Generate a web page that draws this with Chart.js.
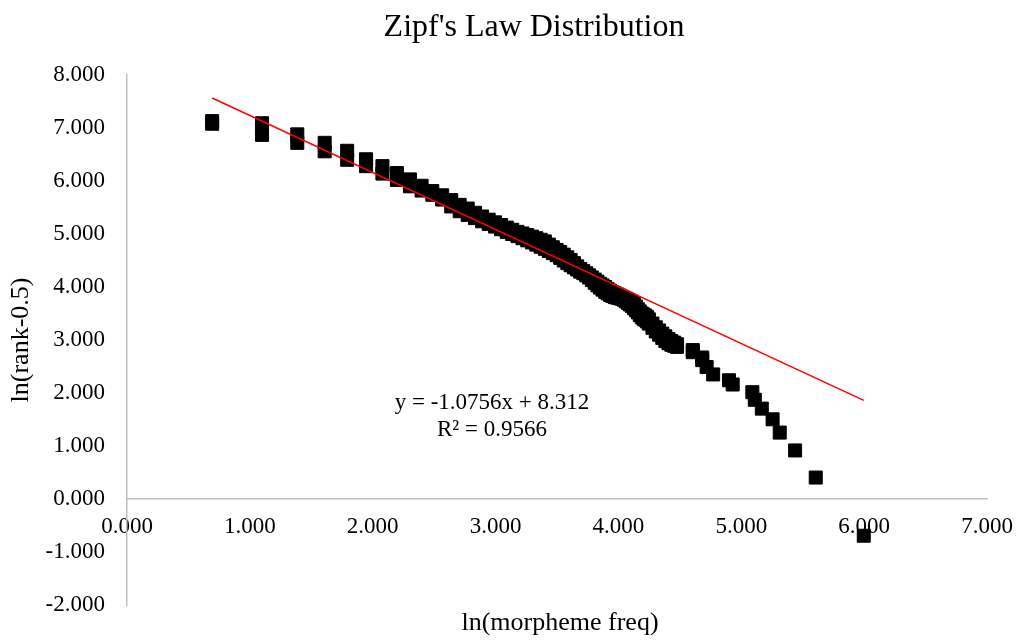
<!DOCTYPE html>
<html>
<head>
<meta charset="utf-8">
<script src="https://cdn.jsdelivr.net/npm/chart.js@4/dist/chart.umd.min.js"></script>
<style>
html,body{margin:0;padding:0;background:#ffffff;}
#wrap{width:1018px;height:644px;}
</style>
</head>
<body>
<div id="wrap"><canvas id="c" width="1018" height="644"></canvas></div>
<script>
const chartTitle = "Zipf's Law Distribution";
const xAxisTitle = "ln(morpheme freq)";
const yAxisTitle = "ln(rank-0.5)";
const equationLines = ["y = -1.0756x + 8.312", "R\u00B2 = 0.9566"];

const xTickRange = [0, 7];
const yTickRange = [-2, 8];

// ln(frequency) of each plotted morpheme point
const lnFreq = [
  0.693, 0.693, 1.099, 1.099, 1.386, 1.386, 1.609, 1.609,
  1.792, 1.792, 1.946, 1.946, 2.079, 2.079, 2.197, 2.197,
  2.303, 2.303, 2.398, 2.398, 2.485, 2.485, 2.565, 2.565,
  2.639, 2.639, 2.708, 2.708, 2.773, 2.773, 2.833, 2.833,
  2.890, 2.890, 2.944, 2.944, 2.996, 2.996, 3.045, 3.045,
  3.091, 3.091, 3.135, 3.135, 3.178, 3.178, 3.219, 3.219,
  3.258, 3.258, 3.296, 3.296, 3.332, 3.332, 3.367, 3.367,
  3.401, 3.401, 3.434, 3.434, 3.466, 3.466, 3.497, 3.497,
  3.526, 3.526, 3.555, 3.555, 3.584, 3.584, 3.611, 3.611,
  3.638, 3.638, 3.664, 3.664, 3.689, 3.689, 3.714, 3.714,
  3.738, 3.738, 3.761, 3.761, 3.784, 3.784, 3.807, 3.807,
  3.829, 3.829, 3.850, 3.850, 3.871, 3.871, 3.892, 3.892,
  3.912, 3.912, 3.932, 3.932, 3.951, 3.951, 3.970, 3.970,
  3.989, 3.989, 4.007, 4.007, 4.025, 4.025, 4.043, 4.043,
  4.060, 4.060, 4.078, 4.078, 4.094, 4.094, 4.111, 4.111,
  4.127, 4.127, 4.143, 4.143, 4.159, 4.159, 4.174, 4.174,
  4.190, 4.190, 4.205, 4.205, 4.220, 4.220, 4.234, 4.234,
  4.248, 4.248, 4.277, 4.277, 4.304, 4.304, 4.331, 4.331,
  4.357, 4.357, 4.382, 4.382, 4.407, 4.407, 4.431, 4.431,
  4.454, 4.454, 4.477, 4.477, 4.605, 4.605, 4.682, 4.682,
  4.718, 4.771, 4.900, 4.930, 5.090, 5.110, 5.167, 5.255,
  5.313, 5.438, 5.606, 5.997
];

// ln(rank - 0.5) of each plotted morpheme point
const lnRank = [
  7.13, 7.08, 7.09, 6.87, 6.88, 6.72, 6.72, 6.56,
  6.57, 6.40, 6.41, 6.28, 6.28, 6.14, 6.15, 6.02,
  6.03, 5.90, 5.91, 5.82, 5.81, 5.74, 5.73, 5.65,
  5.64, 5.52, 5.55, 5.43, 5.48, 5.36, 5.40, 5.30,
  5.33, 5.24, 5.27, 5.19, 5.22, 5.14, 5.17, 5.09,
  5.12, 5.04, 5.08, 5.00, 5.04, 4.96, 5.01, 4.92,
  4.98, 4.88, 4.95, 4.84, 4.92, 4.80, 4.89, 4.76,
  4.86, 4.72, 4.80, 4.68, 4.75, 4.64, 4.70, 4.60,
  4.66, 4.55, 4.61, 4.50, 4.56, 4.45, 4.51, 4.41,
  4.45, 4.37, 4.39, 4.33, 4.34, 4.29, 4.30, 4.26,
  4.26, 4.22, 4.22, 4.18, 4.18, 4.13, 4.14, 4.08,
  4.10, 4.03, 4.06, 3.99, 4.03, 3.95, 4.00, 3.91,
  3.96, 3.88, 3.93, 3.85, 3.90, 3.83, 3.88, 3.81,
  3.86, 3.80, 3.84, 3.79, 3.82, 3.78, 3.80, 3.76,
  3.78, 3.73, 3.76, 3.70, 3.74, 3.67, 3.72, 3.64,
  3.68, 3.60, 3.63, 3.56, 3.58, 3.52, 3.54, 3.47,
  3.50, 3.43, 3.48, 3.40, 3.46, 3.38, 3.43, 3.35,
  3.39, 3.31, 3.31, 3.23, 3.24, 3.16, 3.18, 3.10,
  3.12, 3.04, 3.07, 2.98, 3.02, 2.94, 2.98, 2.91,
  2.95, 2.89, 2.92, 2.87, 2.81, 2.77, 2.67, 2.62,
  2.49, 2.35, 2.24, 2.16, 2.015, 1.872, 1.705, 1.504,
  1.253, 0.916, 0.405, -0.693
];

// linear trendline end points (y = -1.0756x + 8.312)
const trendX = [0.693, 5.997];
const trendY = [7.567, 1.862];

const FONT = "'Liberation Serif', 'Times New Roman', serif";

const points = lnFreq.map((x, i) => ({ x: x, y: lnRank[i] }));
const trend = trendX.map((x, i) => ({ x: x, y: trendY[i] }));

const textPlugin = {
  id: 'extraText',
  afterDraw(chart) {
    const ctx = chart.ctx;
    ctx.save();
    ctx.fillStyle = '#000000';
    ctx.textAlign = 'center';
    ctx.textBaseline = 'middle';
    ctx.font = "32px " + FONT;
    ctx.fillText(chartTitle, 534, 28);
    ctx.font = "26px " + FONT;
    ctx.fillText(xAxisTitle, 560, 623);
    ctx.font = "23px " + FONT;
    ctx.fillText(equationLines[0], 492, 403);
    ctx.fillText(equationLines[1], 492, 430);
    ctx.restore();
  }
};

new Chart(document.getElementById('c'), {
  type: 'scatter',
  data: {
    datasets: [
      {
        label: 'Linear trend',
        data: trend,
        showLine: true,
        borderColor: '#FF0000',
        borderWidth: 1.5,
        pointRadius: 0,
        fill: false,
        order: 0
      },
      {
        label: 'ln(rank-0.5)',
        data: points,
        pointStyle: 'rect',
        pointRadius: 9.2,
        backgroundColor: '#000000',
        borderColor: '#000000',
        borderWidth: 1,
        showLine: false,
        order: 1
      }
    ]
  },
  options: {
    responsive: false,
    animation: false,
    devicePixelRatio: 1,
    layout: { padding: { top: 75, right: 31, bottom: 39, left: 0 } },
    plugins: {
      legend: { display: false },
      tooltip: { enabled: false },
      title: { display: false }
    },
    scales: {
      x: {
        type: 'linear',
        min: xTickRange[0],
        max: xTickRange[1],
        position: { y: 0 },
        ticks: {
          stepSize: 1,
          autoSkip: false,
          maxRotation: 0,
          padding: 5,
          color: '#000000',
          font: { family: FONT, size: 23 },
          callback: v => Number(v).toFixed(3)
        },
        grid: { display: true, drawOnChartArea: false, drawTicks: true, tickLength: 9, color: 'rgba(0,0,0,0)' },
        border: { display: true, color: '#BFBFBF', width: 1.5 }
      },
      y: {
        type: 'linear',
        min: yTickRange[0],
        max: yTickRange[1],
        position: 'left',
        ticks: {
          stepSize: 1,
          autoSkip: false,
          padding: 22,
          color: '#000000',
          font: { family: FONT, size: 23 },
          callback: v => Number(v).toFixed(3)
        },
        grid: { display: false, drawTicks: false },
        border: { display: true, color: '#BFBFBF', width: 1.5 },
        title: {
          display: true,
          text: yAxisTitle,
          color: '#000000',
          font: { family: FONT, size: 26 },
          padding: { top: 6, bottom: 0 }
        },
        afterFit: s => { s.width = 127; }
      }
    }
  },
  plugins: [textPlugin]
});
</script>
</body>
</html>
